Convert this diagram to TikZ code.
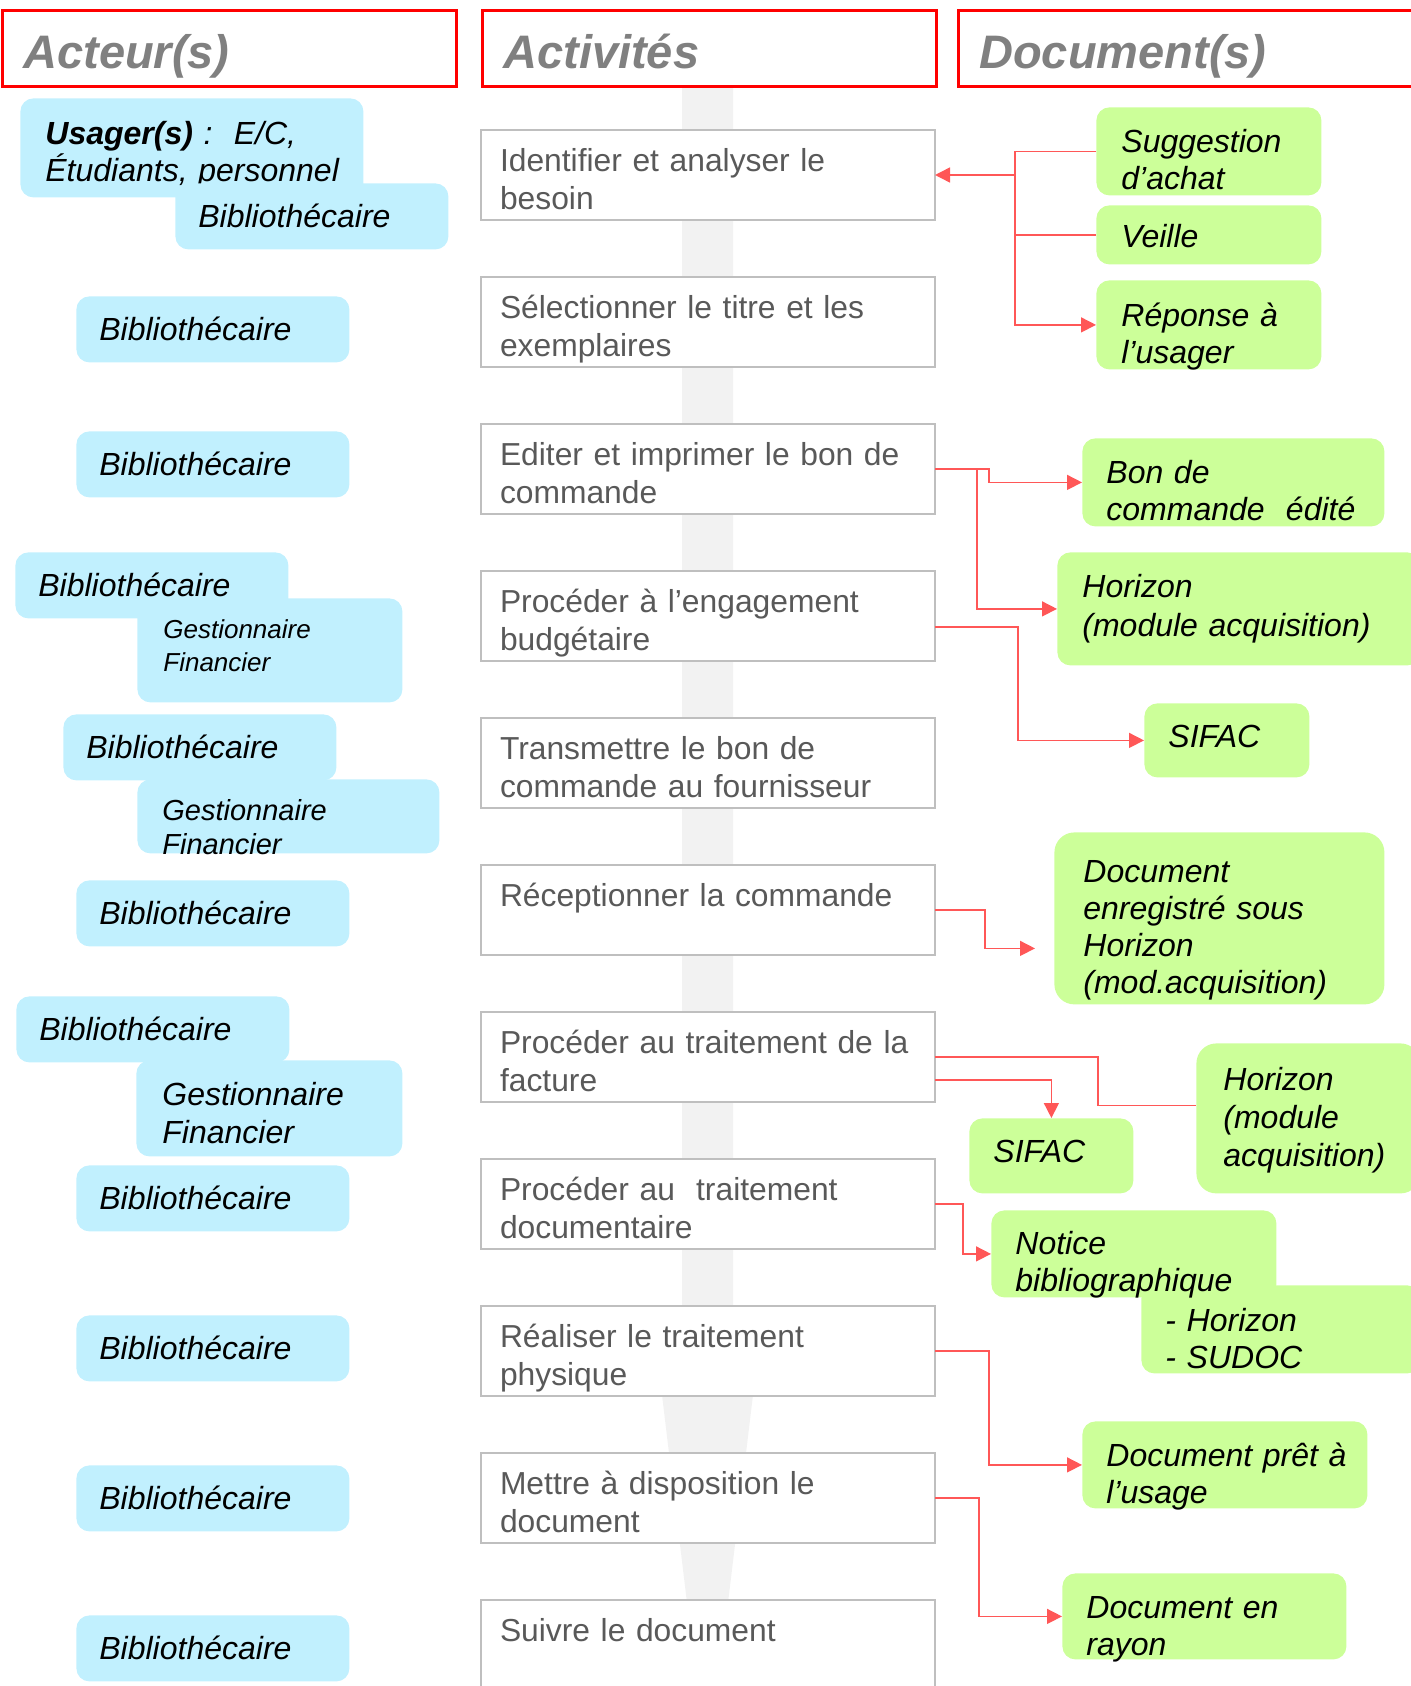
\documentclass[tikz,border=0pt]{standalone}
\usepackage{fontspec}
\setmainfont{Liberation Sans}
\usetikzlibrary{positioning, arrows.meta}

\definecolor{hdrred}{HTML}{FF0000}
\definecolor{hdrgrey}{HTML}{808080}
\definecolor{actgrey}{HTML}{595959}
\definecolor{boxgrey}{HTML}{BFBFBF}
\definecolor{bandgrey}{HTML}{F2F2F2}
\definecolor{actorblue}{HTML}{C1F0FE}
\definecolor{docgreen}{HTML}{CCFF99}
\definecolor{linkred}{HTML}{FF5757}

\begin{document}
\begin{tikzpicture}[
  x=0.5pt, y=-0.5pt,
  node distance=28.5pt,
  dims/.style n args={4}{text width=#1, inner xsep=#2, text height=#3, text depth=#4},
  header/.style={rectangle, draw=hdrred, line width=1.3pt, fill=white, anchor=north west, align=left, inner ysep=0pt, font=\fontsize{23.5pt}{28pt}\selectfont\bfseries\itshape, text=hdrgrey, dims={206pt}{10.5pt}{29pt}{9pt}},
  activity/.style={rectangle, draw=boxgrey, line width=1.2pt, fill=white, outer sep=0pt, align=left, inner ysep=0pt, font=\fontsize{15.9pt}{19.3pt}\selectfont, text=actgrey, dims={208pt}{9.5pt}{20.5pt}{24.5pt}},
  actor/.style={rectangle, rounded corners=6.5pt, fill=actorblue, anchor=north west, align=left, inner ysep=0pt, font=\fontsize{16pt}{18.5pt}\selectfont\itshape},
  biblio/.style={actor, dims={113.5pt}{11.5pt}{22pt}{11pt}},
  doc/.style={rectangle, rounded corners=6.5pt, fill=docgreen, anchor=north west, align=left, inner ysep=0pt, font=\fontsize{16pt}{18.5pt}\selectfont\itshape},
  link/.style={draw=linkred, line width=0.75pt},
  arrow/.style={link, -{Triangle[length=7.5pt, width=7.5pt]}}
]
\useasboundingbox (0,0) rectangle (1411,1686);

% Background arrow
\fill[bandgrey] (682,85) -- (733,85) -- (733,1370) -- (756,1370) -- (718,1686) -- (697,1686) -- (659,1370) -- (682,1370) -- cycle;

% Headers
\node[header] (hacteur) at (1,9) {Acteur(s)};
\node[header] (hactivite) at (481,9) {Activités};
\node[header] (hdocument) at (957,9) {Document(s)};

% Main Flow
\node[activity, anchor=north west] (identifier) at (481,130) {Identifier et analyser le\\besoin};
\node[activity, below=of identifier] (selection) {Sélectionner le titre et les\\exemplaires};
\node[activity, below=of selection] (edition) {Editer et imprimer le bon de\\commande};
\node[activity, below=of edition] (engagement) {Procéder à l’engagement\\budgétaire};
\node[activity, below=of engagement] (transmission) {Transmettre le bon de\\commande au fournisseur};
\node[activity, below=of transmission] (reception) {Réceptionner la commande};
\node[activity, below=of reception] (facture) {Procéder au traitement de la\\facture};
\node[activity, below=of facture] (documentaire) {Procéder au~~traitement\\documentaire};
\node[activity, below=of documentaire] (physique) {Réaliser le traitement\\physique};
\node[activity, below=of physique] (disposition) {Mettre à disposition le\\document};
\node[activity, below=of disposition] (suivi) {Suivre le document};

% Actors
\node[actor, dims={146.5pt}{12.5pt}{23pt}{26.5pt}] (usager) at (20,98) {\textbf{Usager(s)}~:~~E/C,\\\mbox{Étudiants, personnel}};
\node[biblio] (biblio1) at (175,183) {Bibliothécaire};
\node[biblio] (biblio2) at (76,296) {Bibliothécaire};
\node[biblio] (biblio3) at (76,431) {Bibliothécaire};
\node[biblio] (biblio4) at (15,552) {Bibliothécaire};
\node[actor, dims={106.5pt}{13pt}{20pt}{32pt}, font=\fontsize{13pt}{16.5pt}\selectfont\itshape] (gestion1) at (137,598) {Gestionnaire\\Financier};
\node[biblio] (biblio5) at (63,714) {Bibliothécaire};
\node[actor, dims={126pt}{12.5pt}{20.5pt}{16.5pt}, font=\fontsize{14.5pt}{17pt}\selectfont\itshape] (gestion2) at (137,779) {Gestionnaire\\Financier};
\node[biblio] (biblio6) at (76,880) {Bibliothécaire};
\node[biblio] (biblio7) at (16,996) {Bibliothécaire};
\node[actor, dims={107pt}{13pt}{22.5pt}{25.5pt}, font=\fontsize{16pt}{19pt}\selectfont\itshape] (gestion3) at (136,1060) {Gestionnaire\\Financier};
\node[biblio] (biblio8) at (76,1165) {Bibliothécaire};
\node[biblio] (biblio9) at (76,1315) {Bibliothécaire};
\node[biblio] (biblio10) at (76,1465) {Bibliothécaire};
\node[biblio] (biblio11) at (76,1615) {Bibliothécaire};

% Documents
\node[doc, dims={87.5pt}{12.5pt}{22.5pt}{21.5pt}] (suggestion) at (1096,107) {Suggestion\\d’achat};
\node[doc, dims={87.5pt}{12.5pt}{21pt}{8.5pt}] (veille) at (1096,205) {Veille};
\node[doc, dims={87.5pt}{12.5pt}{23pt}{21.5pt}] (reponse) at (1096,280) {Réponse~à\\l’usager};
\node[doc, dims={127pt}{12pt}{22.5pt}{21.5pt}] (boncmd) at (1082,438) {Bon de\\commande~~édité};
\node[doc, dims={156.5pt}{12.5pt}{22.5pt}{34pt}, font=\fontsize{16pt}{19.5pt}\selectfont\itshape] (horizon1) at (1057,552) {Horizon\\(module acquisition)};
\node[doc, dims={58.5pt}{12pt}{22pt}{15pt}] (sifac1) at (1144,703) {SIFAC};
\node[doc, rounded corners=10pt, dims={136pt}{14.5pt}{25pt}{61pt}] (enregistre) at (1054,832) {Document\\enregistré sous\\Horizon\\(mod.acquisition)};
\node[doc, rounded corners=10pt, dims={85pt}{13.5pt}{23.5pt}{51.5pt}, font=\fontsize{16pt}{19pt}\selectfont\itshape] (horizon2) at (1196,1043) {Horizon\\(module\\acquisition)};
\node[doc, dims={58pt}{12pt}{22pt}{15.5pt}] (sifac2) at (969,1118) {SIFAC};
\node[doc, dims={115.5pt}{12pt}{23pt}{21pt}] (sudoc) at (1141,1285) {- Horizon\\- SUDOC};
\node[doc, dims={118.5pt}{12pt}{22pt}{21.5pt}] (notice) at (991,1210) {Notice\\bibliographique};
\node[doc, dims={118.5pt}{12pt}{22.5pt}{21pt}] (pret) at (1082,1421) {Document~prêt~à\\l’usage};
\node[doc, dims={118pt}{12pt}{22.5pt}{20.5pt}] (rayon) at (1062,1573) {Document en\\rayon};

% Connections
\coordinate (besoin) at (1015,175);
\draw[link] (suggestion.west) -| (besoin);
\draw[link] (veille.west) -| (besoin);
\draw[arrow] (besoin) -- (identifier.east);
\draw[arrow] (besoin) |- (reponse.west);
\draw[arrow] (edition.east) -- ++(54,0) |- (boncmd.west);
\draw[arrow] (edition.east) -- ++(42,0) |- (horizon1.west);
\draw[arrow] ([yshift=-5.5pt]engagement.east) -- ++(83,0) |- (sifac1.west);
\draw[arrow, shorten >=9.5pt] (reception.east) -- ++(50,0) |- ([yshift=-15pt]enregistre.west);
\draw[link] (facture.east) -- ++(163,0) |- ([yshift=6.5pt]horizon2.west);
\draw[arrow] ([yshift=-11.5pt]facture.east) -| (sifac2.north);
\draw[arrow] (documentaire.east) -- ++(28,0) |- (notice.west);
\draw[arrow] (physique.east) -- ++(54,0) |- (pret.west);
\draw[arrow] (disposition.east) -- ++(44,0) |- (rayon.west);

\end{tikzpicture}
\end{document}
